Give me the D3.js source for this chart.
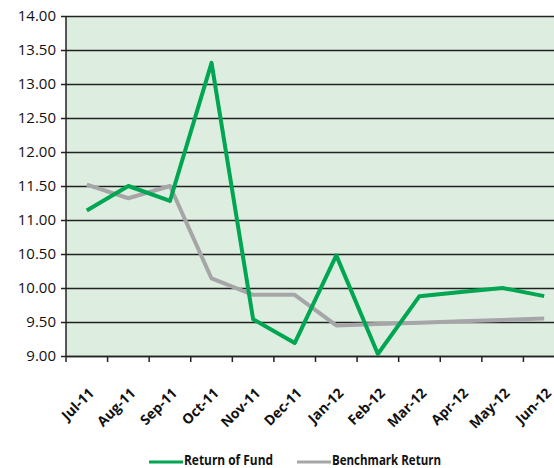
<!DOCTYPE html>
<html><head><meta charset="utf-8">
<script src="https://cdn.jsdelivr.net/npm/d3@7"></script>
<style>body{margin:0;background:#fff;}svg{display:block;}</style>
</head><body>
<svg id="c" width="554" height="468"></svg>
<script>
const categories = ["Jul-11","Aug-11","Sep-11","Oct-11","Nov-11","Dec-11","Jan-12","Feb-12","Mar-12","Apr-12","May-12","Jun-12"];
const fundReturn = [11.14, 11.50, 11.28, 13.31, 9.54, 9.19, 10.48, 9.03, 9.88, 9.94, 10.00, 9.88];
const benchmarkReturn = [11.52, 11.32, 11.50, 10.14, 9.90, 9.90, 9.45, 9.47, 9.49, 9.51, 9.53, 9.55];
const yTicks = [9.00, 9.50, 10.00, 10.50, 11.00, 11.50, 12.00, 12.50, 13.00, 13.50, 14.00];
const seriesNames = ["Return of Fund", "Benchmark Return"];

const svg = d3.select("#c");
const mL = 66, mT = 16, mB = 356, mR = 565;
const x = d3.scaleBand().domain(categories).range([mL, mR]);
const y = d3.scaleLinear().domain([9, 14]).range([mB, mT]);

svg.append("rect").attr("x", mL).attr("y", mT).attr("width", mR-mL).attr("height", mB-mT).attr("fill", "#ddeee1");

// gridlines + y axis
const ya = d3.axisLeft(y).tickValues(yTicks).tickFormat(d3.format(".2f")).tickSize(-(mR-mL)).tickSizeOuter(0).tickPadding(10);
const gy = svg.append("g").attr("transform", `translate(${mL},0)`).call(ya);
gy.select(".domain").remove();
gy.selectAll(".tick line").attr("x1", -5).attr("stroke", "#222").attr("stroke-width", 1.5);
gy.selectAll(".tick text").attr("font-family", "'Open Sans', sans-serif").attr("font-size", 15).attr("fill", "#111");
svg.append("line").attr("x1", mL).attr("x2", mL).attr("y1", mT).attr("y2", mB).attr("stroke", "#222").attr("stroke-width", 1.5);

// x axis ticks at band boundaries
const xa = d3.axisBottom(x).tickSize(0).tickFormat("");
const gx = svg.append("g").attr("transform", `translate(0,${mB})`).call(xa);
gx.select(".domain").attr("stroke", "#222").attr("stroke-width", 1.5);
const bounds = categories.map((c) => x(c)).concat([x(categories[categories.length-1]) + x.bandwidth()]);
svg.selectAll(".xt").data(bounds).enter().append("line")
  .attr("x1", d => d).attr("x2", d => d).attr("y1", mB).attr("y2", mB + 6)
  .attr("stroke", "#222").attr("stroke-width", 1.5);
svg.selectAll(".xl").data(categories).enter().append("text")
  .attr("transform", d => `translate(${x(d) + x.bandwidth()/2 + 8},${mB + 38}) rotate(-45)`)
  .attr("text-anchor", "end")
  .attr("font-family", "'Open Sans', sans-serif").attr("font-weight", "bold").attr("font-size", 14)
  .attr("fill", "#111").text(d => d);

const line = d3.line().x((d, i) => x(categories[i]) + x.bandwidth()/2).y(d => y(d));
svg.append("path").datum(benchmarkReturn).attr("d", line).attr("fill", "none").attr("stroke", "#a6a6a8").attr("stroke-width", 4).attr("stroke-linejoin", "round");
svg.append("path").datum(fundReturn).attr("d", line).attr("fill", "none").attr("stroke", "#00a651").attr("stroke-width", 4).attr("stroke-linejoin", "round");

// legend
const legendColors = ["#00a651", "#a6a6a8"];
const legendX = [149, 297];
const legendLen = [89, 109];
seriesNames.forEach((n, i) => {
  svg.append("line").attr("x1", legendX[i]).attr("x2", legendX[i] + 34).attr("y1", 462).attr("y2", 462)
    .attr("stroke", legendColors[i]).attr("stroke-width", 3);
  svg.append("text").attr("x", legendX[i] + 35).attr("y", 464.5)
    .attr("font-family", "'Open Sans', sans-serif").attr("font-weight", "bold").attr("font-size", 14)
    .attr("textLength", legendLen[i]).attr("lengthAdjust", "spacingAndGlyphs")
    .attr("fill", "#111").text(n);
});
</script>
</body></html>
